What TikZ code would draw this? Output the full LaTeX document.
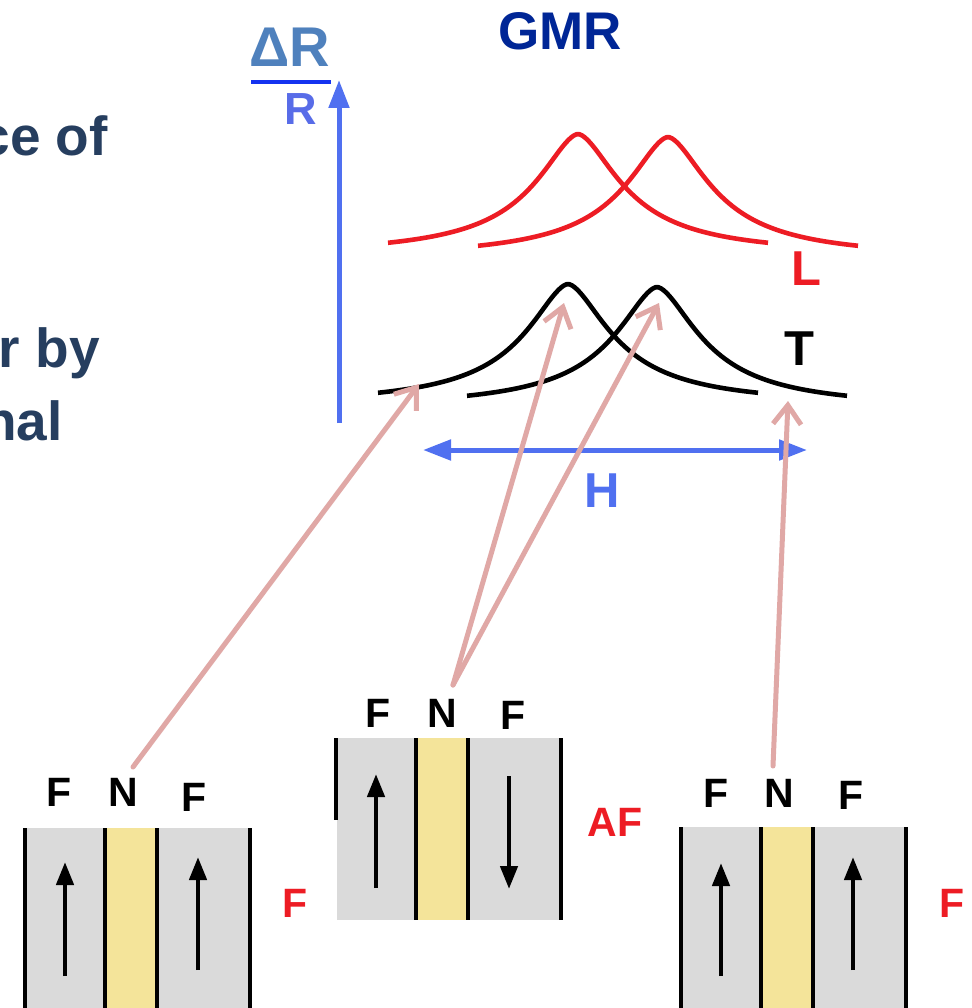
\documentclass[tikz,border=0pt]{standalone}
\usepackage{fontspec}
\setmainfont{Liberation Sans}
\usetikzlibrary{arrows.meta}
\definecolor{axisblue}{RGB}{80,112,240}
\definecolor{barblue}{RGB}{20,50,240}
\definecolor{dtblue}{RGB}{79,129,189}
\definecolor{rblue}{RGB}{88,108,232}
\definecolor{gmrblue}{RGB}{0,38,150}
\definecolor{curvered}{RGB}{237,28,36}
\definecolor{pinkarrow}{RGB}{224,168,166}
\definecolor{layergray}{RGB}{218,218,218}
\definecolor{spacer}{RGB}{244,228,154}
\definecolor{navytext}{RGB}{38,62,95}
\newcommand\peakcurve[3]{%
  \draw[#3] plot[domain=-190:190, samples=140, smooth]
    ({#1+\x},{#2+122-122/(1+pow((abs(\x)+0.01)/55,1.7))});}
\tikzset{
  lbl/.style={inner sep=0pt, font=\fontsize{41}{48}\selectfont\bfseries, anchor=center},
  redlbl/.style={lbl, text=curvered},
  bigtxt/.style={inner sep=0pt, font=\fontsize{55}{66}\selectfont\bfseries, text=navytext, anchor=base east},
  curvestyle/.style={line width=4.6pt, line join=round},
  axisarrow/.style={axisblue, line width=5pt, -{Triangle[length=28pt,width=20pt]}},
  harrow/.style={axisblue, line width=5pt, {Triangle[length=28pt,width=20pt]}-{Triangle[length=28pt,width=20pt]}},
  pinkarr/.style={pinkarrow, line width=5pt, line cap=round, -{Straight Barb[length=19pt,width=28pt]}},
  sepline/.style={black, line width=4pt},
  magarrow/.style={black, line width=4.5pt, -{Triangle[length=23pt,width=17pt]}},
}
\begin{document}
\begin{tikzpicture}[x=1pt,y=-1pt]
\useasboundingbox (0,0) rectangle (971,1008);
\fill[white] (0,0) rectangle (971,1008);

% left text fragments
\node[bigtxt] (t1) at (108,156) {ce of};
\node[bigtxt] (t2) at (100,367) {r by};
\node[bigtxt] (t3) at (63,440) {nal};

% title
\node[inner sep=0pt, anchor=base, font=\fontsize{53}{60}\selectfont\bfseries, text=gmrblue] (gmr) at (560,50) {GMR};

% axis label dR/R
\node[inner sep=0pt, anchor=base, font=\fontsize{56}{64}\selectfont\bfseries, text=dtblue] (dr) at (290,67) {ΔR};
\coordinate (barL) at (251,82);
\coordinate (barR) at (331,82);
\draw[barblue, line width=4pt] (barL) -- (barR);
\node[inner sep=0pt, anchor=base, font=\fontsize{45}{52}\selectfont\bfseries, text=rblue] (rr) at (301,125) {R};

% vertical axis
\coordinate (axB) at (339,423);
\coordinate (axT) at (339,80);
\draw[axisarrow] (axB) -- (axT);

% curves
\peakcurve{578}{134}{curvered, curvestyle}
\peakcurve{668}{137}{curvered, curvestyle}
\peakcurve{568}{284}{black, curvestyle}
\peakcurve{657}{287}{black, curvestyle}

\node[inner sep=0pt, anchor=base, font=\fontsize{49}{56}\selectfont\bfseries, text=curvered] (lL) at (806,285) {L};
\node[inner sep=0pt, anchor=base, font=\fontsize{49}{56}\selectfont\bfseries, text=black] (lT) at (799,365) {T};

% H axis
\coordinate (hL) at (423,450);
\coordinate (hR) at (807,450);
\draw[harrow] (hL) -- (hR);
\node[inner sep=0pt, anchor=base, font=\fontsize{49}{56}\selectfont\bfseries, text=axisblue] (lH) at (602,507) {H};

% ---- left stack (F)
\fill[layergray] (25,828) rectangle (250,1008);
\fill[spacer] (105,828) rectangle (157,1008);
\foreach \xx in {25,105,157,250} \draw[sepline] (\xx,828) -- (\xx,1008);
\coordinate (a1b) at (65,976); \coordinate (a1t) at (65,862);
\coordinate (a2b) at (198,970); \coordinate (a2t) at (198,857);
\draw[magarrow] (a1b) -- (a1t);
\draw[magarrow] (a2b) -- (a2t);
\node[lbl] (f1a) at (59,792) {F};
\node[lbl] (n1) at (123,792) {N};
\node[lbl] (f1b) at (194,797) {F};
\node[redlbl] (r1) at (295,903) {F};

% ---- middle stack (AF)
\fill[layergray] (337,738) rectangle (562,920);
\fill[spacer] (416,738) rectangle (468,920);
\draw[sepline] (336,738) -- (336,820);
\foreach \xx in {416,468,561} \draw[sepline] (\xx,738) -- (\xx,920);
\coordinate (b1b) at (376,888); \coordinate (b1t) at (376,774);
\coordinate (b2t) at (509,776); \coordinate (b2b) at (509,889);
\draw[magarrow] (b1b) -- (b1t);
\draw[magarrow] (b2t) -- (b2b);
\node[lbl] (f2a) at (378,713) {F};
\node[lbl] (n2) at (442,713) {N};
\node[lbl] (f2b) at (513,715) {F};
\node[redlbl] (r2) at (615,822) {AF};

% ---- right stack (F)
\fill[layergray] (681,827) rectangle (907,1008);
\fill[spacer] (761,827) rectangle (813,1008);
\foreach \xx in {681,761,813,906} \draw[sepline] (\xx,827) -- (\xx,1008);
\coordinate (c1b) at (721,976); \coordinate (c1t) at (721,863);
\coordinate (c2b) at (853,970); \coordinate (c2t) at (853,857);
\draw[magarrow] (c1b) -- (c1t);
\draw[magarrow] (c2b) -- (c2t);
\node[lbl] (f3a) at (716,793) {F};
\node[lbl] (n3) at (779,793) {N};
\node[lbl] (f3b) at (851,795) {F};
\node[redlbl] (r3) at (952,903) {F};

% pink connectors
\coordinate (sA) at (133,767); \coordinate (tA) at (419,384);
\coordinate (sB) at (453,685); \coordinate (tB) at (564,303);
\coordinate (tC) at (659,303);
\coordinate (sD) at (773,766); \coordinate (tD) at (788,401);
\draw[pinkarr] (sA) -- (tA);
\draw[pinkarr] (sB) -- (tB);
\draw[pinkarr] (sB) -- (tC);
\draw[pinkarr] (sD) -- (tD);
\end{tikzpicture}
\end{document}
